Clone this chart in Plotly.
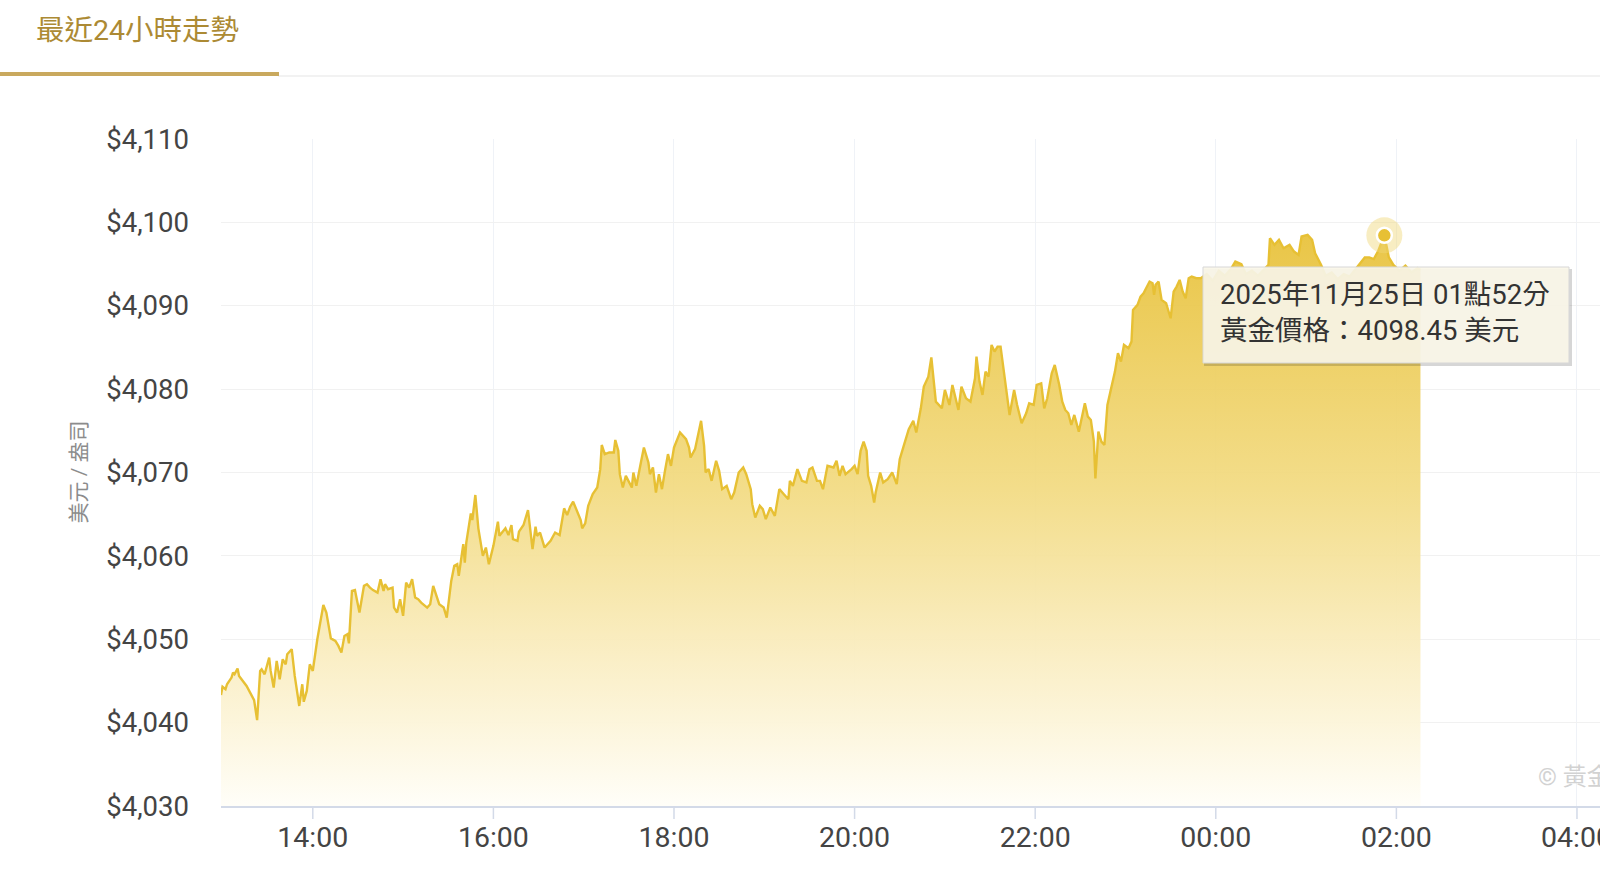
import plotly.graph_objects as go
from datetime import datetime

# ---- data ----
times = [
    "12:59","13:00","13:02","13:03","13:06","13:07","13:08","13:10","13:11","13:16",
    "13:21","13:23","13:25","13:26","13:28","13:31","13:32","13:34","13:36","13:38",
    "13:40","13:42","13:43","13:45","13:46","13:48","13:51","13:53","13:54","13:56",
    "13:58","14:00","14:03","14:07","14:09","14:12","14:15","14:17","14:19","14:21",
    "14:23","14:24","14:26","14:28","14:31","14:34","14:36","14:38","14:40","14:43",
    "14:45","14:47","14:48","14:50","14:53","14:54","14:56","14:58","15:00","15:02",
    "15:04","15:06","15:08","15:10","15:12","15:16","15:18","15:20","15:22","15:24",
    "15:27","15:29","15:32","15:34","15:36","15:37","15:40","15:41","15:42","15:45",
    "15:46","15:48","15:50","15:53","15:55","15:57","16:00","16:03","16:04","16:08",
    "16:10","16:12","16:13","16:16","16:17","16:20","16:23","16:26","16:28","16:29",
    "16:31","16:34","16:38","16:41","16:44","16:47","16:49","16:51","16:53","16:55",
    "16:58","16:59","17:01","17:03","17:06","17:09","17:11","17:12","17:14","17:17",
    "17:20","17:21","17:23","17:24","17:26","17:28","17:30","17:32","17:33","17:35",
    "17:38","17:40","17:43","17:44","17:46","17:48","17:50","17:52","17:54","17:56",
    "17:58","18:00","18:04","18:06","18:08","18:10","18:11","18:14","18:16","18:18",
    "18:20","18:21","18:23","18:25","18:28","18:30","18:32","18:35","18:38","18:40",
    "18:43","18:46","18:48","18:51","18:52","18:54","18:57","18:59","19:01","19:04",
    "19:07","19:10","19:13","19:16","19:17","19:19","19:22","19:25","19:28","19:30",
    "19:32","19:35","19:37","19:39","19:42","19:46","19:48","19:50","19:52","19:54",
    "19:58","20:00","20:02","20:04","20:06","20:08","20:09","20:11","20:13","20:14",
    "20:17","20:19","20:22","20:25","20:28","20:30","20:33","20:36","20:39","20:41",
    "20:44","20:46","20:49","20:51","20:54","20:58","21:00","21:03","21:05","21:09",
    "21:11","21:14","21:17","21:20","21:21","21:23","21:25","21:27","21:29","21:31",
    "21:33","21:35","21:37","21:40","21:43","21:46","21:48","21:51","21:54","21:56",
    "21:59","22:01","22:04","22:06","22:08","22:11","22:13","22:16","22:18","22:20",
    "22:22","22:24","22:26","22:29","22:31","22:33","22:35","22:37","22:39","22:40",
    "22:42","22:44","22:46","22:48","22:50","22:53","22:55","22:57","22:59","23:02",
    "23:04","23:05","23:08","23:10","23:12","23:14","23:16","23:18","23:19","23:20",
    "23:22","23:24","23:27","23:28","23:30","23:32","23:34","23:36","23:38","23:40",
    "23:42","23:44","23:47","23:50","23:54","23:58","00:02","00:06","00:10","00:13",
    "00:17","00:20","00:24","00:28","00:32","00:35","00:36","00:39","00:42","00:45",
    "00:49","00:52","00:55","00:57","01:01","01:04","01:06","01:10","01:13","01:17",
    "01:21","01:25","01:29","01:32","01:35","01:39","01:42","01:45","01:48","01:52",
    "01:55","01:58","02:02","02:06","02:10","02:14","02:16",
]
prices = [
    4043.3,4044.3,4044.0,4044.6,4045.4,4046.0,4045.8,4046.5,4045.6,4044.4,
    4042.7,4040.3,4046.2,4046.4,4045.8,4047.8,4046.2,4044.2,4047.4,4045.2,
    4047.6,4047.0,4048.2,4048.6,4048.8,4045.6,4042.0,4044.6,4042.5,4043.8,
    4047.0,4046.2,4050.0,4054.1,4053.2,4050.1,4049.8,4049.2,4048.4,4050.4,
    4050.6,4049.5,4055.8,4055.9,4053.2,4056.4,4056.6,4056.2,4055.9,4055.6,
    4057.2,4055.8,4056.6,4056.0,4056.2,4053.8,4053.2,4054.8,4052.8,4056.8,
    4056.2,4057.2,4055.0,4054.8,4054.4,4053.8,4054.2,4056.4,4055.4,4054.2,
    4053.8,4052.6,4057.0,4058.8,4059.0,4057.6,4061.4,4059.2,4061.6,4065.1,
    4064.3,4067.3,4063.3,4060.0,4061.0,4059.0,4061.2,4064.1,4062.4,4063.3,
    4062.5,4063.7,4062.0,4061.8,4062.9,4063.7,4065.5,4060.8,4063.5,4062.4,
    4062.8,4061.0,4061.8,4062.8,4062.5,4065.7,4064.9,4065.9,4066.5,4065.7,
    4064.3,4063.3,4063.9,4066.0,4067.4,4068.2,4070.4,4073.3,4072.2,4072.4,
    4072.4,4073.9,4072.6,4069.8,4068.2,4069.6,4068.8,4068.2,4070.0,4068.4,
    4071.2,4073.0,4071.2,4069.8,4070.6,4067.6,4069.8,4068.0,4070.2,4072.2,
    4070.8,4073.0,4074.8,4074.4,4074.0,4073.0,4071.8,4072.8,4074.4,4076.2,
    4073.2,4070.0,4070.4,4069.0,4071.4,4070.2,4068.0,4068.4,4066.8,4067.6,
    4070.0,4070.6,4069.8,4068.0,4066.2,4064.6,4066.0,4065.6,4064.4,4065.8,
    4064.8,4068.0,4067.4,4066.8,4069.0,4068.4,4070.4,4069.0,4068.8,4070.4,
    4070.6,4069.0,4069.0,4068.0,4070.8,4070.6,4071.4,4069.6,4070.8,4069.8,
    4070.4,4070.8,4069.8,4072.6,4073.7,4072.6,4069.6,4068.4,4066.4,4067.6,
    4070.0,4068.8,4069.2,4070.0,4068.6,4071.6,4073.4,4075.2,4076.2,4074.8,
    4077.7,4080.3,4081.5,4083.8,4078.5,4077.7,4079.9,4078.1,4080.5,4077.5,
    4080.3,4078.9,4078.5,4081.3,4083.9,4080.9,4079.3,4082.1,4081.5,4085.3,
    4084.5,4085.1,4085.1,4081.1,4076.9,4079.9,4078.1,4075.9,4077.1,4078.3,
    4078.1,4080.5,4080.7,4077.7,4078.9,4081.9,4082.9,4080.5,4078.5,4077.5,
    4077.1,4075.7,4076.9,4074.9,4076.5,4078.3,4076.7,4076.3,4073.7,4069.3,
    4074.9,4073.7,4073.3,4078.1,4079.7,4082.1,4084.3,4083.3,4085.3,4084.9,
    4085.7,4089.5,4090.1,4091.1,4091.5,4092.3,4092.9,4092.7,4091.3,4092.5,
    4092.9,4090.7,4090.3,4089.7,4088.5,4091.7,4092.3,4093.1,4091.7,4090.9,
    4093.3,4093.5,4093.3,4093.3,4093.8,4093.0,4094.2,4093.6,4094.4,4095.3,
    4095.0,4093.8,4094.2,4093.6,4094.3,4094.9,4098.1,4097.3,4097.9,4096.9,
    4097.3,4096.5,4096.1,4098.3,4098.5,4097.9,4096.3,4094.9,4093.6,4094.0,
    4093.2,4093.8,4093.5,4094.2,4095.0,4095.8,4095.8,4095.6,4096.6,4098.45,
    4095.8,4094.9,4094.2,4094.8,4094.0,4094.5,4094.3,
]
x_ticks = ["14:00","16:00","18:00","20:00","22:00","00:00","02:00","04:00"]
y_ticks = [4030, 4040, 4050, 4060, 4070, 4080, 4090, 4100, 4110]
highlight_time = "01:52"
title_text = "最近24小時走勢"
y_title = "美元 / 盎司"
tooltip_lines = ["2025年11月25日 01點52分", "黃金價格：4098.45 美元"]
watermark = "© 黃金價格網"

# ---- helpers ----
def to_dt(hhmm):
    h, m = map(int, hhmm.split(":"))
    day = 24 if h >= 12 else 25
    return datetime(2025, 11, day, h, m)

xs = [to_dt(t) for t in times]
hi = times.index(highlight_time)
x_tick_dt = [to_dt(t) for t in x_ticks]
y_tick_text = ["${:,}".format(v) for v in y_ticks]

W, H = 1600, 891
L, R, T, B = 221, 0, 139, 85
PW, PH = W - L - R, H - T - B

def px(x):
    return (x - L) / PW

def py(y):
    return (H - B - y) / PH

FONT = "Roboto, 'Noto Sans CJK TC', sans-serif"
GOLD = "rgb(231,192,52)"
AXIS = "#D3DAE8"
TICKFONT = dict(family=FONT, size=28.5, color="#444444")

fig = go.Figure()
fig.add_trace(go.Scatter(
    x=xs, y=prices, mode="lines",
    line=dict(color=GOLD, width=2.4),
    fill="tozeroy",
    fillgradient=dict(
        type="vertical",
        start=4030, stop=4099,
        colorscale=[
            [0.0, "rgba(255,254,248,1)"],
            [0.25, "rgba(250,238,196,0.95)"],
            [0.55, "rgba(242,218,128,0.92)"],
            [1.0, "rgba(232,194,60,0.95)"],
        ],
    ),
    hoverinfo="skip", showlegend=False,
))
# highlight marker (halo + dot)
fig.add_trace(go.Scatter(
    x=[xs[hi]], y=[prices[hi]], mode="markers",
    marker=dict(size=36, color="rgba(240,214,120,0.45)", line=dict(width=0)),
    hoverinfo="skip", showlegend=False, cliponaxis=False,
))
fig.add_trace(go.Scatter(
    x=[xs[hi]], y=[prices[hi]], mode="markers",
    marker=dict(size=15, color=GOLD, line=dict(width=2.5, color="white")),
    hoverinfo="skip", showlegend=False, cliponaxis=False,
))

shapes = [
    # tab underline
    dict(type="line", xref="paper", yref="paper", x0=px(278), x1=px(1600), y0=py(76), y1=py(76),
         line=dict(color="#EEEEEE", width=1.5)),
    dict(type="line", xref="paper", yref="paper", x0=px(0), x1=px(279), y0=py(74), y1=py(74),
         line=dict(color="#C9A95E", width=4)),
    # tooltip shadow + box
    dict(type="rect", xref="paper", yref="paper", x0=px(1204), x1=px(1572), y0=py(366), y1=py(269),
         fillcolor="rgba(0,0,0,0.16)", line=dict(width=0), layer="above"),
    dict(type="rect", xref="paper", yref="paper", x0=px(1203), x1=px(1569), y0=py(363), y1=py(267),
         fillcolor="rgba(250,246,232,0.92)", line=dict(color="rgba(215,215,215,1)", width=1), layer="above"),
]
# x-axis tick marks
for d in x_tick_dt:
    shapes.append(dict(type="line", xref="x", yref="paper", x0=d, x1=d, y0=0, y1=-13 / PH,
                       line=dict(color=AXIS, width=1.5), layer="above"))

annotations = [
    dict(text=title_text, xref="paper", yref="paper", x=px(34), y=py(30),
         xanchor="left", yanchor="middle", showarrow=False,
         font=dict(family=FONT, size=28.5, color="#AC8A34")),
    dict(text=y_title, xref="paper", yref="y", x=px(78), y=4070, textangle=-90,
         xanchor="center", yanchor="middle", showarrow=False,
         font=dict(family=FONT, size=21, color="#8C8C8C")),
    dict(text="<br>".join(tooltip_lines), xref="paper", yref="paper", x=px(1218), y=py(312),
         xanchor="left", yanchor="middle", align="left", showarrow=False,
         font=dict(family=FONT, size=27.5, color="#333333")),
    dict(text=watermark, xref="paper", yref="paper", x=px(1536), y=py(777),
         xanchor="left", yanchor="middle", showarrow=False,
         font=dict(family=FONT, size=24, color="#D2D2D2")),
    # last tick label, partly past the right edge (clipped like the original)
    dict(text=x_ticks[-1], xref="x", yref="paper", x=x_tick_dt[-1], y=py(837),
         xanchor="center", yanchor="middle", showarrow=False, font=TICKFONT),
]

fig.update_layout(
    width=W, height=H,
    margin=dict(l=L, r=R, t=T, b=B, pad=0),
    paper_bgcolor="white", plot_bgcolor="white",
    shapes=shapes, annotations=annotations,
    showlegend=False,
    font=dict(family=FONT),
)
fig.update_xaxes(
    type="date",
    range=[datetime(2025, 11, 24, 12, 59), datetime(2025, 11, 25, 4, 15, 18)],
    tickvals=x_tick_dt, ticktext=x_ticks,
    showgrid=True, gridcolor="#EFF2F7", gridwidth=1,
    showline=True, linecolor=AXIS, linewidth=1.5,
    ticks="", ticklabelstandoff=5,
    tickfont=TICKFONT,
    zeroline=False, fixedrange=True,
)
fig.update_yaxes(
    range=[4030, 4110], tickvals=y_ticks, ticktext=y_tick_text,
    showgrid=True, gridcolor="#F1F1F1", gridwidth=1,
    showline=False, zeroline=False, ticks="",
    ticklabelstandoff=31,
    tickfont=dict(family=FONT, size=27.5, color="#444444"),
    fixedrange=True,
)

fig.write_html(
    "out.html",
    config={"displayModeBar": False},
    post_script="document.body.style.margin='0';document.body.style.overflow='hidden';"
                "document.documentElement.style.overflow='hidden';",
)
